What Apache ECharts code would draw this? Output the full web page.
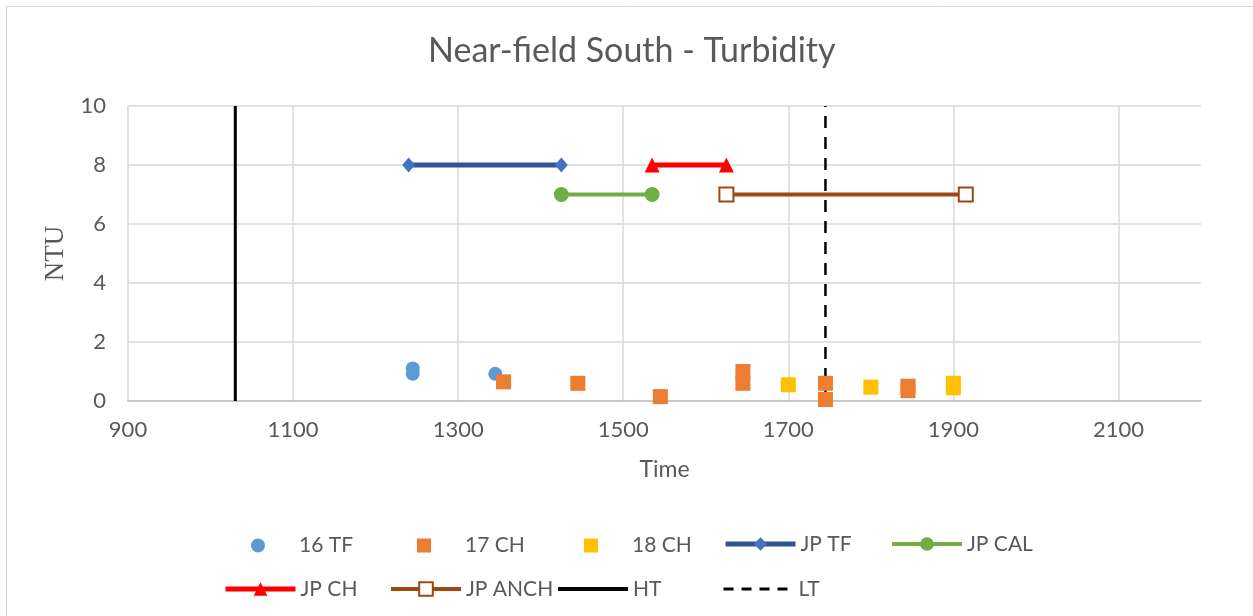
<!DOCTYPE html>
<html>
<head>
<meta charset="utf-8">
<script src="https://cdn.jsdelivr.net/npm/echarts@6/dist/echarts.min.js"></script>
<style>html,body{margin:0;padding:0;background:#fff}#c{width:1253px;height:616px}</style>
</head>
<body>
<div id="c"></div>
<script>
// Data (x = time, y = NTU)
const tf16X = [1245, 1245, 1345];
const tf16Y = [1.1, 0.92, 0.92];
const ch17X = [1355, 1445, 1545, 1645, 1645, 1745, 1745, 1845, 1845];
const ch17Y = [0.65, 0.6, 0.15, 1.0, 0.6, 0.6, 0.05, 0.5, 0.35];
const ch18X = [1700, 1800, 1900, 1900];
const ch18Y = [0.55, 0.47, 0.6, 0.45];
const jpTfX = [1240, 1425];   const jpTfY = [8, 8];
const jpCalX = [1425, 1535];  const jpCalY = [7, 7];
const jpChX = [1535, 1625];   const jpChY = [8, 8];
const jpAnchX = [1625, 1915]; const jpAnchY = [7, 7];
const htX = [1030, 1030];     const htY = [0, 10];
const ltX = [1745, 1745];     const ltY = [0, 10];
const xTicks = { min: 900, max: 2200, interval: 200 };
const yTicks = { min: 0, max: 10, interval: 2 };

const zip = (xs, ys) => xs.map((x, i) => [x, ys[i]]);
const FONT = 'Lato';
const GREY = '#595959';

const chart = echarts.init(document.getElementById('c'), null, { renderer: 'canvas' });

const textStyle = { fontFamily: FONT, fontSize: 21, color: GREY };
function scatterLegend(name, left) {
  return { data: [name], left: left, top: 535, padding: 0, itemWidth: 14, itemHeight: 14, selectedMode: false,
    textStyle: Object.assign({}, textStyle, { padding: [0, 0, 0, 29] }) };
}
function lineLegend(name, left, top, width, hideSymbol, dash) {
  const l = { data: [name], left: left, top: top, padding: 0, itemWidth: 70, itemHeight: 17, selectedMode: false,
    textStyle: Object.assign({}, textStyle, { padding: [0, 0, 0, 0] }),
    lineStyle: { width: width } };
  if (hideSymbol) l.itemStyle = { opacity: 0 };
  if (dash) l.lineStyle.type = dash;
  return l;
}

chart.setOption({
  animation: false,
  backgroundColor: '#fff',
  title: {
    text: 'Near-field South - Turbidity',
    left: 428,
    top: 34,
    padding: 0,
    textStyle: { fontFamily: FONT, fontSize: 34, fontWeight: 'normal', color: GREY }
  },
  graphic: [{
    type: 'rect', shape: { x: 6.5, y: 6.5, width: 1260, height: 620 },
    style: { fill: 'none', stroke: '#D9D9D9', lineWidth: 1 }, silent: true
  }],
  legend: [
    scatterLegend('16 TF', 251),
    scatterLegend('17 CH', 417),
    scatterLegend('18 CH', 584),
    lineLegend('JP TF', 723, 533.5, 5),
    lineLegend('JP CAL', 890, 533.5, 4),
    lineLegend('JP CH', 223, 578.5, 5),
    lineLegend('JP ANCH', 389, 578.5, 4),
    lineLegend('HT', 556, 578.5, 4, true),
    lineLegend('LT', 722, 578.5, 3, true, [10, 8])
  ],
  grid: { left: 128, right: 52, top: 106, bottom: 215, containLabel: false },
  xAxis: {
    type: 'value', min: xTicks.min, max: xTicks.max, interval: xTicks.interval,
    name: 'Time', nameLocation: 'middle', nameGap: 57,
    nameTextStyle: { fontFamily: FONT, fontSize: 23, color: GREY },
    axisLine: { show: true, onZero: false, lineStyle: { color: '#BFBFBF', width: 1.5 } },
    axisTick: { show: false },
    axisLabel: { fontFamily: FONT, fontSize: 22, color: GREY, margin: 18, showMaxLabel: false,
      formatter: v => String(v) },
    splitLine: { show: true, showMaxLine: false, lineStyle: { color: '#D9D9D9', width: 1.5 } }
  },
  yAxis: {
    type: 'value', min: yTicks.min, max: yTicks.max, interval: yTicks.interval,
    name: 'NTU', nameLocation: 'middle', nameGap: 57, nameRotate: 90,
    nameTextStyle: { fontFamily: 'Liberation Serif', fontSize: 27, color: GREY },
    axisLine: { show: false },
    axisTick: { show: false },
    axisLabel: { fontFamily: FONT, fontSize: 22, color: GREY, margin: 22 },
    splitLine: { show: true, lineStyle: { color: '#D9D9D9', width: 1.5 } }
  },
  series: [
    { name: 'HT', type: 'line', data: zip(htX, htY), symbol: 'none', z: 3,
      color: '#000', lineStyle: { color: '#000', width: 3 } },
    { name: 'LT', type: 'line', data: zip(ltX, ltY), symbol: 'none', z: 3,
      color: '#000', lineStyle: { color: '#000', width: 2.5, type: [12, 9] } },
    { name: '16 TF', type: 'scatter', data: zip(tf16X, tf16Y), symbol: 'circle', symbolSize: 14,
      itemStyle: { color: '#5B9BD5', opacity: 1 }, z: 4 },
    { name: '17 CH', type: 'scatter', data: zip(ch17X, ch17Y), symbol: 'rect', symbolSize: 15,
      itemStyle: { color: '#ED7D31', opacity: 1 }, z: 5 },
    { name: '18 CH', type: 'scatter', data: zip(ch18X, ch18Y), symbol: 'rect', symbolSize: 15,
      itemStyle: { color: '#FFC000', opacity: 1 }, z: 5 },
    { name: 'JP TF', type: 'line', data: zip(jpTfX, jpTfY), symbol: 'diamond', symbolSize: [13, 15],
      color: '#4472C4', lineStyle: { color: '#2F5597', width: 5 }, itemStyle: { color: '#4472C4' } },
    { name: 'JP CAL', type: 'line', data: zip(jpCalX, jpCalY), symbol: 'circle', symbolSize: 15,
      color: '#70AD47', lineStyle: { color: '#70AD47', width: 4 }, itemStyle: { color: '#70AD47' } },
    { name: 'JP CH', type: 'line', data: zip(jpChX, jpChY), symbol: 'triangle', symbolSize: 15,
      color: '#FF0000', lineStyle: { color: '#FF0000', width: 5 }, itemStyle: { color: '#FF0000' } },
    { name: 'JP ANCH', type: 'line', data: zip(jpAnchX, jpAnchY), symbol: 'emptyRect', symbolSize: 14,
      color: '#9E480E', lineStyle: { color: '#9E480E', width: 4 },
      itemStyle: { color: '#9E480E', borderColor: '#9E480E', borderWidth: 2 } }
  ]
});
</script>
</body>
</html>
